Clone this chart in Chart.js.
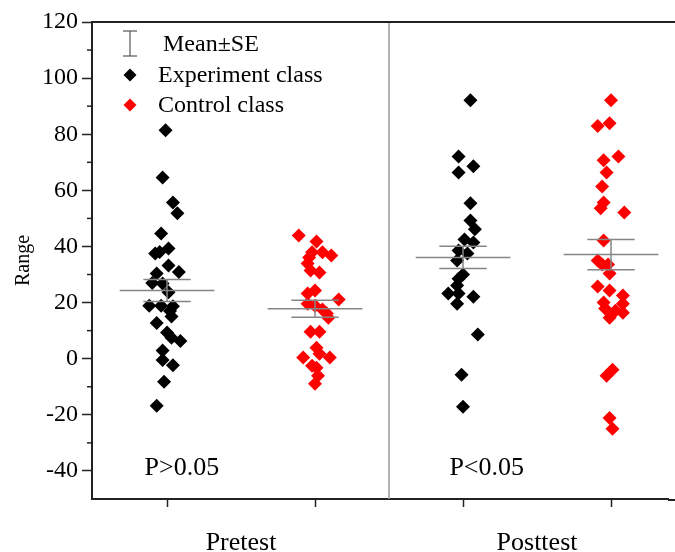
<!DOCTYPE html>
<html>
<head>
<meta charset="utf-8">
<script src="https://cdn.jsdelivr.net/npm/chart.js@4.4.1/dist/chart.umd.min.js"></script>
<style>
  html, body { margin: 0; padding: 0; background: #fff; }
  #wrap { width: 675px; height: 552px; }
</style>
</head>
<body>
<div id="wrap"><canvas id="chart" width="675" height="552"></canvas></div>
<script>
// Groups on the x axis (1 = pretest experiment, 2 = pretest control, 3 = posttest experiment, 4 = posttest control)
const groupLabels = ['Pretest', 'Posttest'];
const groupLabelPos = [1.5, 3.5];
const yTicks = [-40, -20, 0, 20, 40, 60, 80, 100, 120];
const yMinorTicks = [-30, -10, 10, 30, 50, 70, 90, 110];

// Scores, with horizontal jitter (in group units)
const preExpY = [81.4, 64.6, 55.7, 51.8, 44.6, 37.5, 38.0, 39.3, 33.2, 30.9, 30.4, 27.0, 26.8, 23.7, 18.9, 18.9, 18.7, 17.0, 15.0, 12.7, 9.3, 7.5, 6.3, 2.9, -0.5, -2.3, -8.2, -16.8];
const preExpJitter = [-0.01, -0.03, 0.04, 0.07, -0.04, -0.08, -0.05, 0.01, 0.01, 0.08, -0.07, -0.10, -0.03, 0.01, -0.12, -0.04, 0.04, 0.02, 0.03, -0.07, 0, 0.03, 0.09, -0.03, -0.03, 0.04, -0.02, -0.07];

const preCtrlY = [43.9, 41.8, 37.9, 37.9, 36.8, 36.1, 33.9, 31.4, 30.7, 24.3, 23.2, 21.1, 19.6, 18.9, 17.5, 16.1, 14.6, 9.6, 9.6, 3.9, 1.8, 0.4, 0.4, -2.5, -3.2, -6.1, -8.9];
const preCtrlJitter = [-0.11, 0.01, -0.02, 0.05, 0.11, -0.04, -0.05, -0.03, 0.03, 0, -0.05, 0.16, -0.05, 0, 0.05, 0.08, 0.09, -0.03, 0.03, 0.01, 0.03, 0.10, -0.08, -0.02, 0.01, 0.02, 0];

const postExpY = [92.1, 72.1, 68.6, 66.4, 55.4, 49.3, 46.1, 42.5, 41.4, 38.6, 37.5, 35.0, 30.0, 28.5, 26.1, 23.2, 23.2, 22.1, 19.6, 8.6, -5.7, -17.1];
const postExpJitter = [0.05, -0.03, 0.07, -0.03, 0.05, 0.05, 0.08, 0.01, 0.07, -0.03, 0.03, -0.04, 0, -0.03, -0.04, -0.10, -0.03, 0.07, -0.04, 0.10, -0.01, 0];

const postCtrlY = [92.1, 83.9, 82.9, 72.1, 70.7, 66.4, 61.4, 55.7, 53.6, 52.1, 42.1, 35.0, 33.6, 33.6, 30.4, 25.7, 24.3, 22.5, 20.0, 19.6, 17.9, 17.1, 16.4, 14.6, -3.9, -6.1, -21.1, -25.0];
const postCtrlJitter = [0, -0.01, -0.09, 0.05, -0.05, -0.03, -0.06, -0.05, -0.07, 0.09, -0.05, -0.09, -0.06, -0.02, -0.01, -0.09, -0.01, 0.08, -0.05, 0.08, -0.04, 0.03, 0.08, -0.01, 0.01, -0.03, -0.01, 0.01];

// Mean and standard error per group
const groupPos = [1, 2, 3, 4];
const groupMeans = [24.3, 17.8, 36.1, 37.1];
const groupSE = [3.9, 3.0, 3.95, 5.4];

// P-value notes
const pNotes = ['P>0.05', 'P<0.05'];
const pNotePos = [1.1, 3.16];
const pNoteY = -39;

const toPoints = (center, ys, jit) => ys.map((y, i) => ({ x: center + jit[i], y }));

const FONT = "'Liberation Serif', 'Times New Roman', serif";
const GRAY = '#858585';

const overlay = {
  id: 'overlay',
  beforeDatasetsDraw(chart) {
    const { ctx, chartArea: a, scales: { x, y } } = chart;
    ctx.save();
    // divider between pretest and posttest
    ctx.strokeStyle = '#999';
    ctx.lineWidth = 1.5;
    const dx = x.getPixelForValue(2.5);
    ctx.beginPath();
    ctx.moveTo(dx, a.top);
    ctx.lineTo(dx, a.bottom);
    ctx.stroke();
    // top frame, runs off the right edge like the original
    ctx.strokeStyle = '#222';
    ctx.lineWidth = 2;
    ctx.beginPath();
    ctx.moveTo(a.left - 1, a.top);
    ctx.lineTo(chart.width, a.top);
    ctx.stroke();
    // bottom axis also runs to the edge
    ctx.beginPath();
    ctx.moveTo(a.right, a.bottom + 1);
    ctx.lineTo(chart.width, a.bottom + 1);
    ctx.stroke();
    // minor y ticks
    ctx.lineWidth = 1.5;
    yMinorTicks.forEach(v => {
      const py = y.getPixelForValue(v);
      ctx.beginPath();
      ctx.moveTo(a.left - 5, py);
      ctx.lineTo(a.left, py);
      ctx.stroke();
    });
    ctx.restore();
  },
  afterDatasetsDraw(chart) {
    const { ctx, scales: { x, y } } = chart;
    ctx.save();
    // mean +- SE bars
    ctx.strokeStyle = GRAY;
    ctx.lineWidth = 1.5;
    const seg = (x1, y1, x2, y2) => {
      ctx.beginPath();
      ctx.moveTo(x1, y1);
      ctx.lineTo(x2, y2);
      ctx.stroke();
    };
    groupPos.forEach((g, i) => {
      const m = y.getPixelForValue(groupMeans[i]);
      const hi = y.getPixelForValue(groupMeans[i] + groupSE[i]);
      const lo = y.getPixelForValue(groupMeans[i] - groupSE[i]);
      const cx = x.getPixelForValue(g);
      const longL = x.getPixelForValue(g - 0.32), longR = x.getPixelForValue(g + 0.32);
      const capL = x.getPixelForValue(g - 0.16), capR = x.getPixelForValue(g + 0.16);
      seg(longL, m, longR, m);
      seg(capL, hi, capR, hi);
      seg(capL, lo, capR, lo);
      seg(cx, hi, cx, lo);
    });

    // P-value notes
    ctx.fillStyle = '#000';
    ctx.font = '26px ' + FONT;
    ctx.textAlign = 'center';
    ctx.textBaseline = 'middle';
    pNotes.forEach((t, i) => {
      ctx.fillText(t, x.getPixelForValue(pNotePos[i]), y.getPixelForValue(pNoteY));
    });

    // legend
    ctx.textAlign = 'left';
    ctx.font = '24px ' + FONT;
    ctx.strokeStyle = '#555';
    ctx.lineWidth = 1.2;
    seg(130, 31, 130, 56);
    seg(123, 31, 137, 31);
    seg(123, 56, 137, 56);
    ctx.fillText('Mean\u00b1SE', 163, 45);

    const diamond = (cx, cy, r, col) => {
      ctx.fillStyle = col;
      ctx.beginPath();
      ctx.moveTo(cx, cy - r);
      ctx.lineTo(cx + r, cy);
      ctx.lineTo(cx, cy + r);
      ctx.lineTo(cx - r, cy);
      ctx.closePath();
      ctx.fill();
    };
    diamond(130, 75, 6.5, '#000');
    diamond(130, 105, 6.5, '#f00');
    ctx.fillStyle = '#000';
    ctx.fillText('Experiment class', 158, 76);
    ctx.fillText('Control class', 158, 106);
    ctx.restore();
  }
};

new Chart(document.getElementById('chart'), {
  type: 'scatter',
  data: {
    datasets: [
      {
        label: 'Experiment class',
        data: [...toPoints(1, preExpY, preExpJitter), ...toPoints(3, postExpY, postExpJitter)],
        backgroundColor: '#000',
        borderWidth: 0,
        pointStyle: 'rectRot',
        pointRadius: 7
      },
      {
        label: 'Control class',
        data: [...toPoints(2, preCtrlY, preCtrlJitter), ...toPoints(4, postCtrlY, postCtrlJitter)],
        backgroundColor: '#f00',
        borderWidth: 0,
        pointStyle: 'rectRot',
        pointRadius: 7
      }
    ]
  },
  options: {
    responsive: false,
    animation: false,
    layout: { padding: { top: 22, right: 0, left: 0, bottom: 0 } },
    plugins: {
      legend: { display: false },
      tooltip: { enabled: false }
    },
    scales: {
      x: {
        type: 'linear',
        min: 0.493,
        max: 4.385,
        afterBuildTicks: s => {
          s.ticks = [1, 2, 3, 4, ...groupLabelPos].sort((a, b) => a - b).map(v => ({ value: v }));
        },
        afterFit: s => { s.height = 53; },
        border: { display: true, color: '#222', width: 2 },
        grid: {
          drawOnChartArea: false,
          drawTicks: true,
          tickLength: 8,
          tickWidth: 1.5,
          color: c => (c.tick && groupLabelPos.includes(c.tick.value)) ? 'rgba(0,0,0,0)' : '#222'
        },
        ticks: {
          autoSkip: false,
          maxRotation: 0,
          padding: 21,
          color: '#000',
          font: { family: FONT, size: 26 },
          callback: v => {
            const i = groupLabelPos.indexOf(v);
            return i >= 0 ? groupLabels[i] : '';
          }
        }
      },
      y: {
        min: -50,
        max: 120,
        afterBuildTicks: s => { s.ticks = yTicks.map(v => ({ value: v })); },
        afterFit: s => { s.width = 92; },
        border: { display: true, color: '#222', width: 2 },
        grid: {
          drawOnChartArea: false,
          drawTicks: true,
          tickLength: 10,
          tickWidth: 1.5,
          color: '#222'
        },
        ticks: {
          padding: 4,
          color: '#000',
          font: { family: FONT, size: 24 }
        },
        title: {
          display: true,
          text: 'Range',
          color: '#000',
          font: { family: FONT, size: 20 },
          padding: { top: 12, bottom: 0 }
        }
      }
    }
  },
  plugins: [overlay]
});
</script>
</body>
</html>
